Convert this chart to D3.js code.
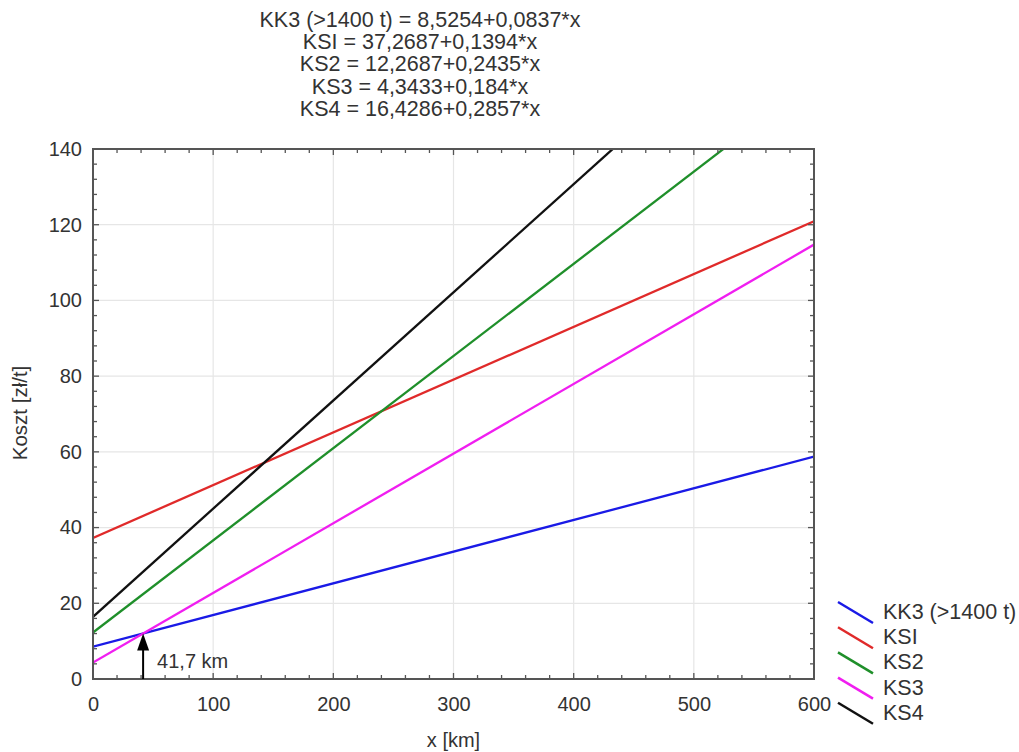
<!DOCTYPE html>
<html>
<head>
<meta charset="utf-8">
<script src="https://cdn.jsdelivr.net/npm/d3@7"></script>
<style>
  body { margin: 0; background: #fff; }
  svg { display: block; font-family: "Liberation Sans", Arial, sans-serif; }
</style>
</head>
<body>
<svg id="chart" width="1019" height="752"></svg>
<script>
// ---- data ----
const titleLines = [
  "KK3 (>1400 t) = 8,5254+0,0837*x",
  "KSI = 37,2687+0,1394*x",
  "KS2 = 12,2687+0,2435*x",
  "KS3 = 4,3433+0,184*x",
  "KS4 = 16,4286+0,2857*x"
];
const seriesNames = ["KK3 (>1400 t)", "KSI", "KS2", "KS3", "KS4"];
const seriesColors = ["#1a1ae6", "#e02a2a", "#1f8f2a", "#f01ef0", "#111111"];
const xPoints = [0, 600];
const kk3Values = [8.5254, 58.7454];
const ksiValues = [37.2687, 120.9087];
const ks2Values = [12.2687, 158.3687];
const ks3Values = [4.3433, 114.7433];
const ks4Values = [16.4286, 187.8486];
const seriesValues = [kk3Values, ksiValues, ks2Values, ks3Values, ks4Values];
const xTicks = [0, 100, 200, 300, 400, 500, 600];
const yTicks = [0, 20, 40, 60, 80, 100, 120, 140];
const arrowX = 41.7;
const arrowY = 12.02;
const arrowLabel = "41,7 km";

// ---- layout ----
const svg = d3.select("#chart");
const L = 93, R = 814, T = 149, B = 679;
const x = d3.scaleLinear().domain([0, 600]).range([L, R]);
const y = d3.scaleLinear().domain([0, 140]).range([B, T]);
const frameColor = "#555";
const textColor = "#333";
const fs = 20;

// title
svg.append("g").selectAll("text").data(titleLines).join("text")
  .attr("x", 420).attr("y", (d, i) => 27 + i * 22.2)
  .attr("text-anchor", "middle").attr("font-size", 21.5).attr("fill", textColor)
  .text(d => d);

// grid
svg.append("g").selectAll("line").data(xTicks.slice(1, -1)).join("line")
  .attr("x1", d => x(d)).attr("x2", d => x(d)).attr("y1", T).attr("y2", B)
  .attr("stroke", "#e6e6e6").attr("stroke-width", 1.2);
svg.append("g").selectAll("line").data(yTicks.slice(1, -1)).join("line")
  .attr("y1", d => y(d)).attr("y2", d => y(d)).attr("x1", L).attr("x2", R)
  .attr("stroke", "#e6e6e6").attr("stroke-width", 1.2);

// series lines
svg.append("clipPath").attr("id", "clip").append("rect")
  .attr("x", L).attr("y", T).attr("width", R - L).attr("height", B - T);
const line = d3.line().x((d, i) => x(xPoints[i])).y(d => y(d));
svg.append("g").attr("clip-path", "url(#clip)").selectAll("path").data(seriesValues).join("path")
  .attr("d", d => line(d)).attr("fill", "none")
  .attr("stroke", (d, i) => seriesColors[i]).attr("stroke-width", 2.3);

// minor ticks (inside, all four sides)
const xMinor = d3.range(0, 601, 20);
const yMinor = d3.range(0, 141, 4);
const tk = svg.append("g").attr("stroke", frameColor).attr("stroke-width", 1.3);
xMinor.forEach(v => {
  const len = v % 100 === 0 ? 6 : 4;
  tk.append("line").attr("x1", x(v)).attr("x2", x(v)).attr("y1", B).attr("y2", B - len);
  tk.append("line").attr("x1", x(v)).attr("x2", x(v)).attr("y1", T).attr("y2", T + len);
});
yMinor.forEach(v => {
  const len = v % 20 === 0 ? 6 : 4;
  tk.append("line").attr("y1", y(v)).attr("y2", y(v)).attr("x1", L).attr("x2", L + len);
  tk.append("line").attr("y1", y(v)).attr("y2", y(v)).attr("x1", R).attr("x2", R - len);
});

// frame
svg.append("rect").attr("x", L).attr("y", T).attr("width", R - L).attr("height", B - T)
  .attr("fill", "none").attr("stroke", frameColor).attr("stroke-width", 2);

// axes labels via d3 axes (no lines)
const xAxis = svg.append("g").attr("transform", `translate(0,${B})`)
  .call(d3.axisBottom(x).tickValues(xTicks).tickSize(0).tickPadding(18));
xAxis.select(".domain").remove();
xAxis.selectAll("text").attr("font-size", fs).attr("fill", textColor)
  .attr("font-family", "Liberation Sans, Arial, sans-serif");
const yAxis = svg.append("g").attr("transform", `translate(${L},0)`)
  .call(d3.axisLeft(y).tickValues(yTicks).tickSize(0).tickPadding(11));
yAxis.select(".domain").remove();
yAxis.selectAll("text").attr("font-size", fs).attr("fill", textColor)
  .attr("font-family", "Liberation Sans, Arial, sans-serif");

// axis titles
svg.append("text").attr("x", x(300)).attr("y", 747).attr("text-anchor", "middle")
  .attr("font-size", fs).attr("fill", textColor).text("x [km]");
svg.append("text").attr("transform", `translate(27,${413}) rotate(-90)`)
  .attr("text-anchor", "middle").attr("font-size", 20.5).attr("fill", textColor).text("Koszt [zł/t]");

// arrow annotation
const ax = x(arrowX), tipY = y(arrowY);
svg.append("line").attr("x1", ax).attr("x2", ax).attr("y1", B).attr("y2", tipY + 10)
  .attr("stroke", "#000").attr("stroke-width", 2);
svg.append("path")
  .attr("d", `M${ax},${tipY} L${ax - 6},${tipY + 17} L${ax + 6},${tipY + 17} Z`)
  .attr("fill", "#000");
svg.append("text").attr("x", ax + 14).attr("y", 668).attr("font-size", fs)
  .attr("fill", textColor).text(arrowLabel);

// legend
const lg = svg.append("g");
seriesNames.forEach((n, i) => {
  const yy = 602 + i * 25.2;
  lg.append("line").attr("x1", 838).attr("y1", yy).attr("x2", 873).attr("y2", yy + 21)
    .attr("stroke", seriesColors[i]).attr("stroke-width", 2.5);
  lg.append("text").attr("x", 883).attr("y", yy + 17).attr("font-size", 21.5)
    .attr("fill", textColor).text(n);
});
</script>
</body>
</html>
